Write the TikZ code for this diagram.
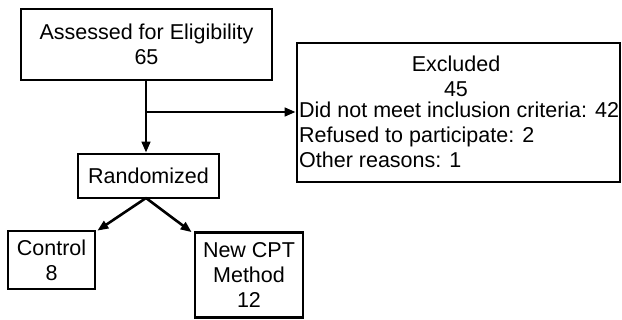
\documentclass[tikz,border=0pt]{standalone}
\usepackage{fontspec}
\setmainfont{Liberation Sans}
\usetikzlibrary{arrows.meta}
\begin{document}
\begin{tikzpicture}[x=1pt,y=-1pt,
  box/.style={draw, line width=2.7pt, inner sep=0pt, align=center, font=\fontsize{21.5}{25}\selectfont},
  txt/.style={inner sep=0pt, font=\fontsize{21.5}{25}\selectfont},
  arr/.style={line width=2.6pt, -{Triangle[length=11pt,width=8.5pt]}},
  ln/.style={line width=2.6pt}]
\useasboundingbox (0,0) rectangle (622,320);
\node[box, minimum width=251pt, minimum height=71pt] (assess) at (146.5,44.5) {Assessed for Eligibility\\65};
\node[box, minimum width=323pt, minimum height=139pt] (excl) at (458.5,112.5) {};
\node[txt, align=center] (exclhead) at (456,76) {Excluded\\45};
\node[txt, align=left, anchor=west] (excllist) at (299,135) {Did not meet inclusion criteria: 42\\Refused to participate: 2\\Other reasons: 1};
\node[box, minimum width=141pt, minimum height=44pt] (rand) at (148.5,176) {Randomized};
\node[box, minimum width=87pt, minimum height=58pt] (ctrl) at (51.5,260) {Control\\8};
\node[box, minimum width=108pt, minimum height=85pt] (newcpt) at (249,275) {New CPT\\Method\\12};
\coordinate (br) at (146,112);
\coordinate (rs) at (146,198);
\draw[ln] (assess.south -| br) -- (br);
\draw[arr] (br) -- (rand.north -| br);
\draw[arr] (br) -- (br -| excl.west);
\draw[arr] (rs) -- ([xshift=1pt,yshift=-1pt]ctrl.north east);
\draw[arr] (rs) -- ([xshift=-2pt,yshift=-1pt]newcpt.north west);
\end{tikzpicture}
\end{document}
